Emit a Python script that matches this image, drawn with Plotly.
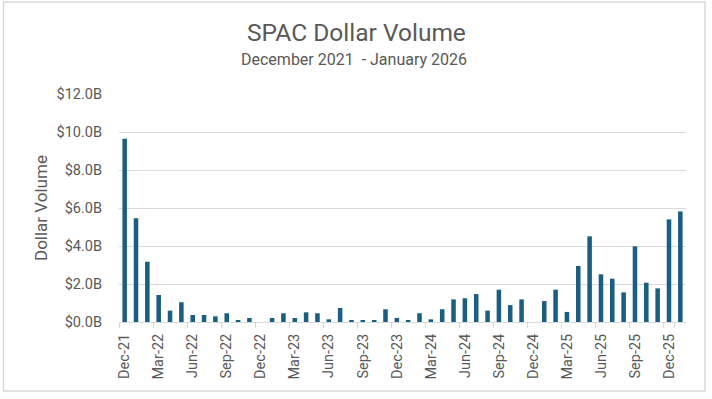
import plotly.graph_objects as go

months = ["Dec-21","Jan-22","Feb-22","Mar-22","Apr-22","May-22","Jun-22","Jul-22","Aug-22","Sep-22",
          "Oct-22","Nov-22","Dec-22","Jan-23","Feb-23","Mar-23","Apr-23","May-23","Jun-23","Jul-23",
          "Aug-23","Sep-23","Oct-23","Nov-23","Dec-23","Jan-24","Feb-24","Mar-24","Apr-24","May-24",
          "Jun-24","Jul-24","Aug-24","Sep-24","Oct-24","Nov-24","Dec-24","Jan-25","Feb-25","Mar-25",
          "Apr-25","May-25","Jun-25","Jul-25","Aug-25","Sep-25","Oct-25","Nov-25","Dec-25","Jan-26"]

volume_b = [9.65, 5.46, 3.17, 1.42, 0.60, 1.04, 0.37, 0.37, 0.30, 0.46,
            0.10, 0.21, 0.0, 0.21, 0.46, 0.21, 0.51, 0.46, 0.14, 0.74,
            0.09, 0.09, 0.09, 0.67, 0.21, 0.09, 0.46, 0.14, 0.67, 1.19,
            1.25, 1.47, 0.60, 1.70, 0.89, 1.19, 0.0, 1.10, 1.70, 0.53,
            2.95, 4.51, 2.51, 2.28, 1.56, 3.98, 2.07, 1.77, 5.40, 5.82]

tick_labels = months[::3]
y_ticks = [0, 2, 4, 6, 8, 10, 12]
y_tick_text = ["$%.1fB" % v for v in y_ticks]

title = "SPAC Dollar Volume"
subtitle = "December 2021  - January 2026"
y_title = "Dollar Volume"

FONT = "Roboto"
GRAY = "#595959"
GRID = "#d9d9d9"
BAR = "#1a5f82"

W, H = 712, 399
ML, MR, MT, MB = 119, 26, 94, 77

fig = go.Figure(go.Bar(x=months, y=volume_b, marker=dict(color=BAR, line=dict(width=0)),
                       hoverinfo="x+y"))

fig.update_layout(
    width=W, height=H,
    margin=dict(l=ML, r=MR, t=MT, b=MB, autoexpand=False),
    paper_bgcolor="white", plot_bgcolor="white",
    bargap=0.6,
    showlegend=False,
    font=dict(family=FONT, color=GRAY, size=14.5),
)
fig.update_xaxes(
    type="category", automargin=False,
    tickmode="array", tickvals=tick_labels, ticktext=tick_labels,
    tickangle=-90, ticks="outside", tickson="boundaries", ticklen=5,
    tickcolor=GRID, showline=True, linecolor=GRID, linewidth=1,
    showgrid=False, tickfont=dict(size=14.5, color=GRAY), ticklabelstandoff=5,
)
fig.update_yaxes(
    range=[0, 12], automargin=False, tickmode="array", tickvals=y_ticks, ticktext=y_tick_text,
    showgrid=True, gridcolor=GRID, gridwidth=1, zeroline=False,
    showline=False, ticks="", ticklabelstandoff=16,
    tickfont=dict(size=14.5, color=GRAY),
)

pw = W - ML - MR
ph = H - MT - MB
def px(x):
    return (x - ML) / pw
def py(y):
    return (H - MB - y) / ph

fig.add_annotation(text=title, x=px(356), y=py(33), xref="paper", yref="paper",
                   showarrow=False, font=dict(size=24.5, color=GRAY, family=FONT),
                   xanchor="center", yanchor="middle")
fig.add_annotation(text=subtitle, x=px(354), y=py(59), xref="paper", yref="paper",
                   showarrow=False, font=dict(size=16, color=GRAY, family=FONT),
                   xanchor="center", yanchor="middle")
fig.add_annotation(text=y_title, x=px(41), y=py(208), xref="paper", yref="paper",
                   showarrow=False, textangle=-90, font=dict(size=17, color=GRAY, family=FONT),
                   xanchor="center", yanchor="middle")

fig.add_shape(type="rect", xref="paper", yref="paper",
              x0=px(3.5), x1=px(705), y0=py(2), y1=py(391),
              line=dict(color=GRID, width=1.5), fillcolor="rgba(0,0,0,0)", layer="below")

fig.write_html("out.html", config={"displayModeBar": False},
               post_script="document.body.style.margin='0';document.body.style.overflow='hidden';")
